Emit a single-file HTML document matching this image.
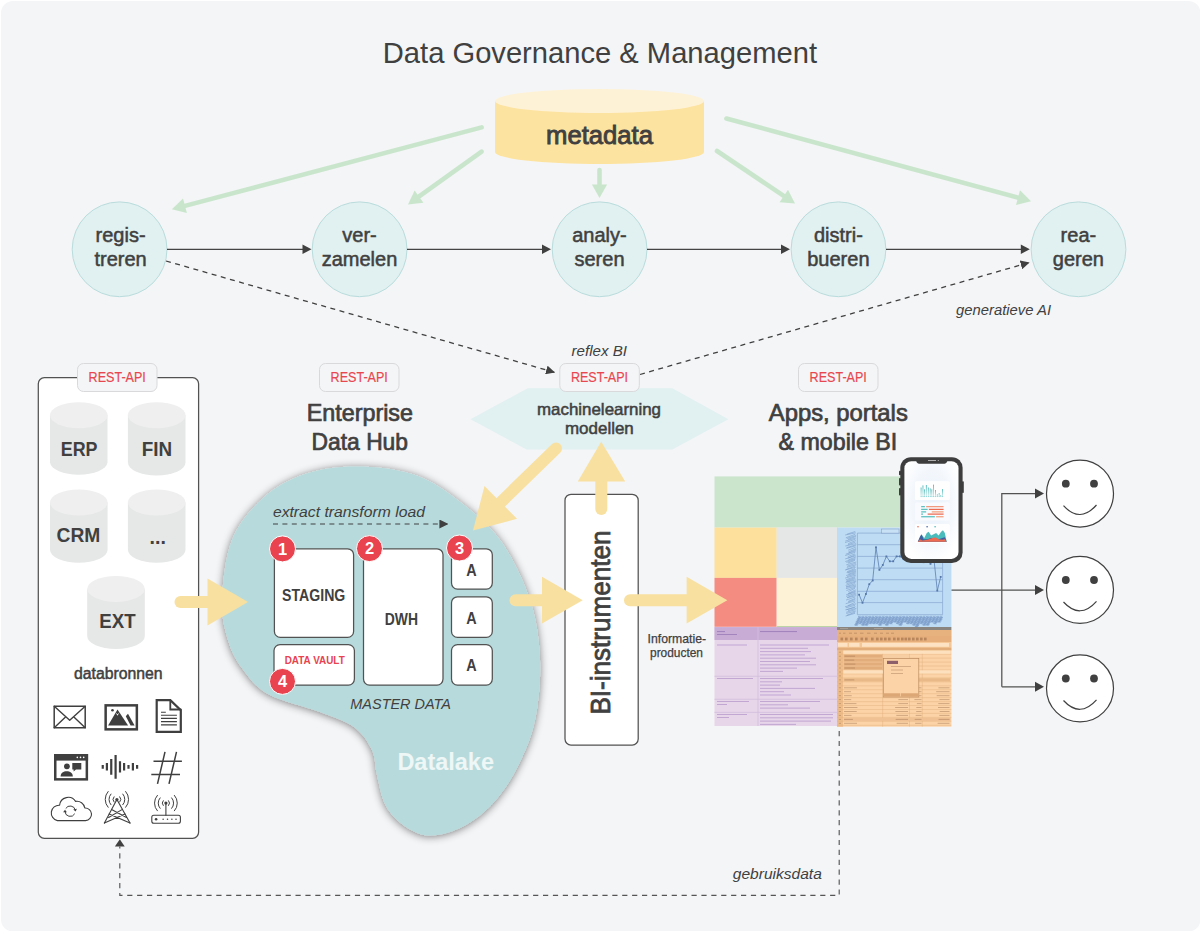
<!DOCTYPE html>
<html><head><meta charset="utf-8">
<style>
html,body{margin:0;padding:0;background:#fff;width:1200px;height:931px;overflow:hidden}
svg{display:block}
text{font-family:"Liberation Sans",sans-serif}
.t{fill:#404040}
.med{stroke:#404040;stroke-width:0.5px;paint-order:stroke}
.it{font-style:italic}
.rest{fill:#e8474f;font-size:14px;stroke:#e8474f;stroke-width:0.2px;paint-order:stroke}
</style></head><body>
<svg width="1200" height="931" viewBox="0 0 1200 931">
<defs>
  <marker id="ah" viewBox="0 0 10 10" refX="10" refY="5" markerWidth="9" markerHeight="9" markerUnits="userSpaceOnUse" orient="auto">
    <path d="M0,0 L10,5 L0,10 z" fill="#404040"/>
  </marker>
  <filter id="sh" x="-10%" y="-10%" width="120%" height="120%">
    <feGaussianBlur in="SourceAlpha" stdDeviation="4"/>
    <feOffset dx="-0.5" dy="1"/>
    <feComponentTransfer><feFuncA type="linear" slope="0.5"/></feComponentTransfer>
    <feMerge><feMergeNode/><feMergeNode in="SourceGraphic"/></feMerge>
  </filter>
</defs>

<!-- background -->
<rect x="1" y="1" width="1199.5" height="930.5" rx="12" fill="#f4f5f7"/>

<!-- title -->
<text x="382.8" y="62.7" font-size="29.5" class="t" textLength="434.2" lengthAdjust="spacingAndGlyphs">Data Governance &amp; Management</text>

<!-- green arrows from metadata -->
<g stroke="#c9e6cc" stroke-width="4.6" stroke-linecap="round" fill="none">
  <line x1="481.6" y1="127.4" x2="183.0" y2="206.4"/>
  <line x1="481.6" y1="151.7" x2="417.4" y2="197.7"/>
  <line x1="599.5" y1="170" x2="599.5" y2="186.5"/>
  <line x1="717" y1="151" x2="785.5" y2="197.1"/>
  <line x1="726.4" y1="118.5" x2="1019.9" y2="198.2"/>
</g>
<g fill="#c9e6cc">
  <path d="M171.9,209.2 L183.0,198.4 L186.9,213.0 Z"/>
  <path d="M408.0,204.4 L414.6,190.4 L423.4,202.7 Z"/>
  <path d="M599.5,198.0 L591.9,184.5 L607.1,184.5 Z"/>
  <path d="M795.0,203.5 L779.6,202.3 L788.0,189.7 Z"/>
  <path d="M1031.0,201.2 L1016.0,205.0 L1020.0,190.3 Z"/>
</g>

<!-- metadata cylinder -->
<path d="M495,101 L495,152 A104.5,12 0 0 0 704,152 L704,101 Z" fill="#fde3a0"/>
<ellipse cx="599.5" cy="101" rx="104.5" ry="12" fill="#fef2d6"/>
<text x="546" y="144.4" font-size="26.5" class="t" style="stroke:#404040;stroke-width:0.9px;paint-order:stroke" textLength="107" lengthAdjust="spacingAndGlyphs">metadata</text>

<!-- process circles -->
<g fill="#e1f0f0" stroke="#b9dcdc" stroke-width="1">
  <circle cx="119.6" cy="249.3" r="47.4"/>
  <circle cx="359.6" cy="249.3" r="47.4"/>
  <circle cx="599.6" cy="249.3" r="47.4"/>
  <circle cx="838.5" cy="249.3" r="47.4"/>
  <circle cx="1078.5" cy="249.3" r="47.4"/>
</g>
<g font-size="20" class="t med" text-anchor="middle">
  <text x="120.6" y="242.3">regis-</text><text x="120.6" y="266.3">treren</text>
  <text x="359.5" y="242.3">ver-</text><text x="359.5" y="266.3">zamelen</text>
  <text x="599.5" y="242.3">analy-</text><text x="599.5" y="266.3">seren</text>
  <text x="838.4" y="242.3">distri-</text><text x="838.4" y="266.3">bueren</text>
  <text x="1078.4" y="242.3">rea-</text><text x="1078.4" y="266.3">geren</text>
</g>

<!-- process arrows -->
<g stroke="#444444" stroke-width="1.25" fill="none">
  <line x1="167" y1="249.3" x2="303" y2="249.3"/>
  <line x1="407" y1="249.3" x2="543" y2="249.3"/>
  <line x1="647" y1="249.3" x2="782" y2="249.3"/>
  <line x1="886" y1="249.3" x2="1022" y2="249.3"/>
</g>
<g fill="#404040">
  <path d="M311.5,249.3 L302.5,244.6 L302.5,254 Z"/>
  <path d="M551,249.3 L542,244.6 L542,254 Z"/>
  <path d="M790,249.3 L781,244.6 L781,254 Z"/>
  <path d="M1029.8,249.3 L1020.8,244.6 L1020.8,254 Z"/>
</g>
<!-- dashed -->
<g stroke="#404040" stroke-width="1.3" fill="none" stroke-dasharray="5 4.5" marker-end="url(#ah)">
  <line x1="166" y1="261" x2="555" y2="372.5"/>
  <line x1="640" y1="374.5" x2="1029.6" y2="262.4"/>
</g>
<text x="1051" y="315.4" font-size="14.5" class="t it" text-anchor="end" textLength="95" lengthAdjust="spacingAndGlyphs">generatieve AI</text>
<text x="571.5" y="356" font-size="14.5" class="t it" textLength="55.5" lengthAdjust="spacingAndGlyphs">reflex BI</text>

<!-- datasource box -->
<rect x="38.3" y="377.7" width="160.3" height="460.6" rx="6" fill="#ffffff" stroke="#525252" stroke-width="1.25"/>

<!-- cylinders -->
<path d="M50.0,415.3 L50.0,462.5 A28.8,13 0 0 0 107.5,462.5 L107.5,415.3 Z" fill="#e6e7e7"/><ellipse cx="78.8" cy="415.3" rx="28.8" ry="13" fill="#efefef"/>
<path d="M127.9,415.3 L127.9,462.5 A28.8,13 0 0 0 185.5,462.5 L185.5,415.3 Z" fill="#e6e7e7"/><ellipse cx="156.7" cy="415.3" rx="28.8" ry="13" fill="#efefef"/>
<path d="M50.0,502.5 L50.0,549.7 A28.8,13 0 0 0 107.6,549.7 L107.6,502.5 Z" fill="#e6e7e7"/><ellipse cx="78.8" cy="502.5" rx="28.8" ry="13" fill="#efefef"/>
<path d="M127.9,502.5 L127.9,549.7 A28.8,13 0 0 0 185.5,549.7 L185.5,502.5 Z" fill="#e6e7e7"/><ellipse cx="156.7" cy="502.5" rx="28.8" ry="13" fill="#efefef"/>
<path d="M87.2,588.9 L87.2,636.1 A28.8,13 0 0 0 144.8,636.1 L144.8,588.9 Z" fill="#e6e7e7"/><ellipse cx="116.0" cy="588.9" rx="28.8" ry="13" fill="#efefef"/>
<g font-size="20.5" font-weight="bold" class="t" text-anchor="middle">
  <text x="79.1" y="456" textLength="36.75" lengthAdjust="spacingAndGlyphs">ERP</text>
  <text x="157" y="456" textLength="30.4" lengthAdjust="spacingAndGlyphs">FIN</text>
  <text x="78.5" y="542" textLength="43.8" lengthAdjust="spacingAndGlyphs">CRM</text>
  <text x="157.8" y="544.3" textLength="16.4" lengthAdjust="spacingAndGlyphs">...</text>
  <text x="117.4" y="628.4" textLength="36.3" lengthAdjust="spacingAndGlyphs">EXT</text>
</g>
<text x="118.3" y="678.5" font-size="16" class="t med" text-anchor="middle" textLength="88.6" lengthAdjust="spacingAndGlyphs">databronnen</text>


<!-- headings -->
<g font-size="23.4" class="t med" style="stroke-width:0.7px" text-anchor="middle">
  <text x="359.85" y="421.3" textLength="106.3" lengthAdjust="spacingAndGlyphs">Enterprise</text>
  <text x="359.8" y="449.5" textLength="96.4" lengthAdjust="spacingAndGlyphs">Data Hub</text>
  <text x="838.3" y="421" textLength="139" lengthAdjust="spacingAndGlyphs">Apps, portals</text>
  <text x="837.9" y="449.5" textLength="118.8" lengthAdjust="spacingAndGlyphs">&amp; mobile BI</text>
</g>

<!-- datalake blob -->
<path d="M356,466.5 C373.8,466.5 395.5,468.8 412,474 C428.5,479.2 440.3,487.0 455,498 C469.7,509.0 487.5,523.0 500,540 C512.5,557.0 523.3,580.0 530,600 C536.7,620.0 539.2,640.0 540,660 C540.8,680.0 538.7,702.3 535,720 C531.3,737.7 524.8,752.3 518,766 C511.2,779.7 503.0,792.0 494,802 C485.0,812.0 474.5,820.4 464,826 C453.5,831.6 440.7,835.4 431,835.6 C421.3,835.8 413.5,831.9 406,827 C398.5,822.1 390.8,814.7 386,806 C381.2,797.3 379.3,784.3 377,775 C374.7,765.7 375.8,758.0 372,750 C368.2,742.0 362.7,733.3 354,727 C345.3,720.7 334.3,717.5 320,712 C305.7,706.5 281.0,701.3 268,694 C255.0,686.7 248.7,677.0 242,668 C235.3,659.0 231.3,651.3 228,640 C224.7,628.7 221.3,616.7 222,600 C222.7,583.3 225.2,557.0 232,540 C238.8,523.0 250.8,509.0 263,498 C275.2,487.0 289.5,479.2 305,474 C320.5,468.8 338.2,466.5 356,466.5 Z" fill="#b7dbdc" filter="url(#sh)"/>
<text x="445.7" y="769.6" font-size="24" font-weight="bold" fill="#eef6f6" text-anchor="middle" textLength="96.6" lengthAdjust="spacingAndGlyphs">Datalake</text>
<text x="272.9" y="516.5" font-size="15.5" class="t it" textLength="152" lengthAdjust="spacingAndGlyphs">extract transform load</text>
<line x1="273" y1="524" x2="448.4" y2="524" stroke="#404040" stroke-width="1.2" stroke-dasharray="5 4.4" marker-end="url(#ah)"/>
<g fill="#ffffff" stroke="#525252" stroke-width="1.25">
  <rect x="274.4" y="548.8" width="79.2" height="88.6" rx="6"/>
  <rect x="274" y="644.6" width="80.4" height="40.5" rx="6"/>
  <rect x="363.5" y="548.8" width="79.5" height="136.3" rx="6"/>
  <rect x="451.5" y="548.8" width="40.8" height="40.3" rx="6"/>
  <rect x="451.5" y="596.8" width="40.8" height="40.6" rx="6"/>
  <rect x="451.5" y="644.6" width="40.8" height="40.5" rx="6"/>
</g>
<g font-size="15.6" font-weight="bold" class="t" text-anchor="middle">
  <text x="313.7" y="601" textLength="63.3" lengthAdjust="spacingAndGlyphs">STAGING</text>
  <text x="401.4" y="624.9" textLength="33.2" lengthAdjust="spacingAndGlyphs">DWH</text>
  <text x="471.4" y="575.5" font-size="16.3" textLength="10.4" lengthAdjust="spacingAndGlyphs">A</text>
  <text x="471.4" y="623.5" font-size="16.3" textLength="10.4" lengthAdjust="spacingAndGlyphs">A</text>
  <text x="471.4" y="671.3" font-size="16.3" textLength="10.4" lengthAdjust="spacingAndGlyphs">A</text>
</g>
<text x="314.7" y="664" font-size="11.5" font-weight="bold" fill="#e8434f" text-anchor="middle" textLength="60" lengthAdjust="spacingAndGlyphs">DATA VAULT</text>
<text x="350.3" y="709" font-size="15" class="t it" textLength="100.7" lengthAdjust="spacingAndGlyphs">MASTER DATA</text>
<g fill="#e8434f" stroke="#ffffff" stroke-width="1">
  <circle cx="282.5" cy="548.9" r="13"/>
  <circle cx="369.5" cy="548.6" r="13"/>
  <circle cx="459.5" cy="548" r="13"/>
  <circle cx="282.5" cy="681.4" r="13"/>
</g>
<g font-size="16.5" font-weight="bold" fill="#ffffff" text-anchor="middle">
  <text x="282.5" y="554.7">1</text>
  <text x="369.5" y="554.4">2</text>
  <text x="459.5" y="553.8">3</text>
  <text x="282.5" y="687.2">4</text>
</g>


<!-- hexagon -->
<path d="M470.5,419.2 L527.7,388.2 L672.3,388.2 L728.3,419.2 L672.3,449.5 L526.5,449.5 Z" fill="#e1f0f1"/>
<g font-size="16.5" class="t med" text-anchor="middle">
  <text x="599" y="414.5" textLength="124" lengthAdjust="spacingAndGlyphs">machinelearning</text>
  <text x="599.4" y="433.7" textLength="68.8" lengthAdjust="spacingAndGlyphs">modellen</text>
</g>

<!-- BI box -->
<rect x="565" y="494.3" width="73.2" height="250.7" rx="6" fill="#ffffff" stroke="#525252" stroke-width="1.25"/>
<text transform="translate(609.9,622.6) rotate(-90)" x="0" y="0" font-size="28.5" class="t med" style="stroke-width:0.8px" text-anchor="middle" textLength="184" lengthAdjust="spacingAndGlyphs">BI-instrumenten</text>
<g font-size="12.2" class="t med" text-anchor="middle" style="stroke-width:0.25px">
  <text x="676.8" y="642.6" textLength="58.4" lengthAdjust="spacingAndGlyphs">Informatie-</text>
  <text x="676.5" y="656.7" textLength="53" lengthAdjust="spacingAndGlyphs">producten</text>
</g>

<!-- dashboard -->
<g>
<rect x="714.50" y="476.40" width="236.90" height="51.20" fill="#cbe5cd"/>
<rect x="714.50" y="527.60" width="62.20" height="50.30" fill="#fce09c"/>
<rect x="776.70" y="527.60" width="60.50" height="50.30" fill="#e5e6e6"/>
<rect x="714.50" y="577.90" width="62.20" height="48.90" fill="#f58c82"/>
<rect x="776.70" y="577.90" width="60.50" height="48.90" fill="#fdf2d6"/>
<rect x="776.70" y="626.30" width="60.50" height="1.60" fill="#a3c98f"/>
<rect x="837.00" y="527.60" width="114.40" height="99.60" fill="#bedcf4"/>
<g stroke="#86a6d0" stroke-width="0.7"><line x1="857.4" y1="533.1" x2="942.6" y2="533.1"/><line x1="857.4" y1="544.7" x2="942.6" y2="544.7"/><line x1="857.4" y1="556.4" x2="942.6" y2="556.4"/><line x1="857.4" y1="568.1" x2="942.6" y2="568.1"/><line x1="857.4" y1="579.7" x2="942.6" y2="579.7"/><line x1="857.4" y1="591.3" x2="942.6" y2="591.3"/><line x1="857.4" y1="602.6" x2="942.6" y2="602.6"/><line x1="857.4" y1="614.7" x2="942.6" y2="614.7"/><line x1="857.4" y1="533.1" x2="857.4" y2="614.7"/><line x1="942.6" y1="533.1" x2="942.6" y2="614.7"/></g>
<rect x="881.7" y="529" width="17.3" height="4.1" fill="#c9e1f5" stroke="#7f9cc4" stroke-width="0.5"/><polyline fill="none" stroke="#5b7fb2" stroke-width="0.8" points="859.1,594.7 862.5,602.8 865.9,594.0 869.3,584.2 872.7,580.5 876.0,547.3 879.4,569.9 882.8,565.0 886.4,556.4 889.8,561.3 893.2,561.3 896.6,556.4 899.9,556.4 903.3,558.8 906.7,554.3 910.1,561.1 913.5,557.7 916.9,553.2 920.2,558.8 923.6,562.2 927.1,558.8 930.5,563.9 933.9,558.8 937.3,590.6 940.7,576.9"/>
<g fill="#5577aa"><rect x="858.2" y="593.8" width="1.8" height="1.8"/><rect x="861.6" y="601.9" width="1.8" height="1.8"/><rect x="865.0" y="593.1" width="1.8" height="1.8"/><rect x="868.4" y="583.3" width="1.8" height="1.8"/><rect x="871.8" y="579.6" width="1.8" height="1.8"/><rect x="875.1" y="546.4" width="1.8" height="1.8"/><rect x="878.5" y="569.0" width="1.8" height="1.8"/><rect x="881.9" y="564.1" width="1.8" height="1.8"/><rect x="885.5" y="555.5" width="1.8" height="1.8"/><rect x="888.9" y="560.4" width="1.8" height="1.8"/><rect x="892.3" y="560.4" width="1.8" height="1.8"/><rect x="895.7" y="555.5" width="1.8" height="1.8"/><rect x="899.0" y="555.5" width="1.8" height="1.8"/><rect x="902.4" y="557.9" width="1.8" height="1.8"/><rect x="905.8" y="553.4" width="1.8" height="1.8"/><rect x="909.2" y="560.2" width="1.8" height="1.8"/><rect x="912.6" y="556.8" width="1.8" height="1.8"/><rect x="916.0" y="552.3" width="1.8" height="1.8"/><rect x="919.3" y="557.9" width="1.8" height="1.8"/><rect x="922.7" y="561.3" width="1.8" height="1.8"/><rect x="926.2" y="557.9" width="1.8" height="1.8"/><rect x="929.6" y="563.0" width="1.8" height="1.8"/><rect x="933.0" y="557.9" width="1.8" height="1.8"/><rect x="936.4" y="589.7" width="1.8" height="1.8"/><rect x="939.8" y="576.0" width="1.8" height="1.8"/></g>
<path d="M846.9,534.2 L855.3,531.5 M845.2,535.0 L855.8,532.8 M845.8,537.8 L855.3,534.3 M846.7,538.6 L856.1,535.5 M848.0,539.4 L855.8,536.5 M845.2,541.1 L855.9,538.0 M845.1,542.6 L855.4,539.3 M848.1,543.6 L855.9,540.5 M847.8,544.8 L855.5,542.1 M845.3,546.0 L856.1,543.6 M846.5,547.7 L856.3,544.7 M846.4,548.4 L855.7,545.8 M848.2,550.2 L855.8,547.1 M848.5,551.7 L856.1,548.6 M848.4,553.0 L856.1,549.6 M845.7,554.2 L855.9,550.9 M845.2,555.6 L855.4,552.2 M847.8,556.6 L855.1,553.8 M847.7,558.2 L855.4,554.8 M845.2,558.9 L855.8,555.8 M848.4,559.8 L856.1,556.9 M845.3,561.5 L855.4,558.5 M846.4,562.4 L855.3,559.4 M848.0,563.0 L855.1,560.4 M846.3,564.8 L856.2,562.0 M847.1,566.2 L855.8,563.3 M846.8,567.4 L856.2,564.6 M846.1,569.5 L855.3,566.0 M845.0,570.0 L855.7,567.3 M847.2,571.6 L855.0,568.6 M846.6,572.6 L855.8,569.5 M847.6,572.9 L855.9,570.7 M848.4,574.1 L855.9,571.6 M846.1,575.5 L855.8,572.8 M847.1,576.5 L855.5,573.9 M845.1,578.1 L856.0,575.1 M845.8,579.8 L855.4,576.5 M846.5,580.7 L855.2,577.6 M846.2,581.8 L855.4,578.6 M845.6,582.4 L856.1,579.8 M846.6,583.6 L856.2,581.1 M845.7,585.4 L855.7,582.1 M846.0,586.8 L855.2,583.6 M846.2,587.3 L856.0,584.9 M845.9,588.7 L856.0,586.1 M846.4,590.6 L855.5,587.2 M848.3,591.6 L855.0,588.3 M848.3,593.3 L855.6,589.8 M847.9,594.0 L856.0,590.9 M846.2,594.7 L855.4,592.2 M846.0,596.4 L855.8,593.1 M847.4,597.4 L856.2,594.0 M847.0,597.8 L856.2,595.6 M846.0,600.1 L855.2,597.0 M848.3,601.3 L855.5,598.3 M848.0,602.2 L855.3,599.4 M845.7,603.7 L855.5,600.8 M847.8,605.7 L855.2,602.3 M845.0,606.8 L856.1,603.8 M845.9,607.8 L855.1,605.3 M846.7,609.8 L855.5,606.6 M845.4,609.8 L855.1,607.5 M848.0,610.7 L856.3,608.4 M846.1,612.3 L855.4,609.7 M846.3,613.5 L855.8,611.0 M846.9,615.3 L855.2,612.1 M845.6,616.0 L855.1,613.3 " fill="none" stroke="#6d8ec0" stroke-width="0.55" opacity="0.9"/>
<path d="M859.0,616.0 L858.0,616.8 L859.6,617.6 L857.3,618.4 L858.9,619.2 L856.6,620.0 L858.2,620.8 L855.8,621.6 L857.4,622.4 L855.1,623.2 L856.7,624.0 L854.4,624.8 L856.0,625.6 M859.9,616.0 L858.9,616.8 L860.5,617.6 L858.2,618.4 L859.8,619.2 L857.5,620.0 L859.1,620.8 L856.7,621.6 L858.3,622.4 L856.0,623.2 L857.6,624.0 L855.3,624.8 L856.9,625.6 M860.8,616.0 L859.8,616.8 L861.4,617.6 L859.1,618.4 L860.7,619.2 L858.4,620.0 L860.0,620.8 L857.6,621.6 L859.2,622.4 L856.9,623.2 L858.5,624.0 L856.2,624.8 L857.8,625.6 M862.4,616.0 L861.4,616.8 L863.0,617.6 L860.7,618.4 L862.3,619.2 L860.0,620.0 L861.6,620.8 L859.2,621.6 L860.8,622.4 L858.5,623.2 L860.1,624.0 M863.3,616.0 L862.3,616.8 L863.9,617.6 L861.6,618.4 L863.2,619.2 L860.9,620.0 L862.5,620.8 L860.1,621.6 L861.7,622.4 L859.4,623.2 L861.0,624.0 M864.2,616.0 L863.2,616.8 L864.8,617.6 L862.5,618.4 L864.1,619.2 L861.8,620.0 L863.4,620.8 L861.0,621.6 L862.6,622.4 L860.3,623.2 L861.9,624.0 M865.8,616.0 L864.8,616.8 L866.4,617.6 L864.1,618.4 L865.7,619.2 L863.4,620.0 L865.0,620.8 L862.6,621.6 L864.2,622.4 L861.9,623.2 L863.5,624.0 L861.2,624.8 L862.8,625.6 M866.7,616.0 L865.7,616.8 L867.3,617.6 L865.0,618.4 L866.6,619.2 L864.3,620.0 L865.9,620.8 L863.5,621.6 L865.1,622.4 L862.8,623.2 L864.4,624.0 L862.1,624.8 L863.7,625.6 M867.6,616.0 L866.6,616.8 L868.2,617.6 L865.9,618.4 L867.5,619.2 L865.2,620.0 L866.8,620.8 L864.4,621.6 L866.0,622.4 L863.7,623.2 L865.3,624.0 L863.0,624.8 L864.6,625.6 M869.2,616.0 L868.2,616.8 L869.8,617.6 L867.5,618.4 L869.1,619.2 L866.8,620.0 L868.4,620.8 L866.0,621.6 L867.6,622.4 L865.3,623.2 L866.9,624.0 L864.6,624.8 L866.2,625.6 M870.1,616.0 L869.1,616.8 L870.7,617.6 L868.4,618.4 L870.0,619.2 L867.7,620.0 L869.3,620.8 L866.9,621.6 L868.5,622.4 L866.2,623.2 L867.8,624.0 L865.5,624.8 L867.1,625.6 M871.0,616.0 L870.0,616.8 L871.6,617.6 L869.3,618.4 L870.9,619.2 L868.6,620.0 L870.2,620.8 L867.8,621.6 L869.4,622.4 L867.1,623.2 L868.7,624.0 L866.4,624.8 L868.0,625.6 M872.6,616.0 L871.6,616.8 L873.2,617.6 L870.9,618.4 L872.5,619.2 L870.2,620.0 L871.8,620.8 L869.4,621.6 L871.0,622.4 L868.7,623.2 L870.3,624.0 M873.5,616.0 L872.5,616.8 L874.1,617.6 L871.8,618.4 L873.4,619.2 L871.1,620.0 L872.7,620.8 L870.3,621.6 L871.9,622.4 L869.6,623.2 L871.2,624.0 M874.4,616.0 L873.4,616.8 L875.0,617.6 L872.7,618.4 L874.3,619.2 L872.0,620.0 L873.6,620.8 L871.2,621.6 L872.8,622.4 L870.5,623.2 L872.1,624.0 M876.0,616.0 L875.0,616.8 L876.6,617.6 L874.3,618.4 L875.9,619.2 L873.6,620.0 L875.2,620.8 L872.8,621.6 L874.4,622.4 L872.1,623.2 L873.7,624.0 M876.9,616.0 L875.9,616.8 L877.5,617.6 L875.2,618.4 L876.8,619.2 L874.5,620.0 L876.1,620.8 L873.7,621.6 L875.3,622.4 L873.0,623.2 L874.6,624.0 M877.8,616.0 L876.8,616.8 L878.4,617.6 L876.1,618.4 L877.7,619.2 L875.4,620.0 L877.0,620.8 L874.6,621.6 L876.2,622.4 L873.9,623.2 L875.5,624.0 M879.4,616.0 L878.4,616.8 L880.0,617.6 L877.7,618.4 L879.3,619.2 L877.0,620.0 L878.6,620.8 L876.2,621.6 L877.8,622.4 L875.5,623.2 L877.1,624.0 M880.3,616.0 L879.3,616.8 L880.9,617.6 L878.6,618.4 L880.2,619.2 L877.9,620.0 L879.5,620.8 L877.1,621.6 L878.7,622.4 L876.4,623.2 L878.0,624.0 M881.2,616.0 L880.2,616.8 L881.8,617.6 L879.5,618.4 L881.1,619.2 L878.8,620.0 L880.4,620.8 L878.0,621.6 L879.6,622.4 L877.3,623.2 L878.9,624.0 M882.8,616.0 L881.8,616.8 L883.4,617.6 L881.1,618.4 L882.7,619.2 L880.4,620.0 L882.0,620.8 L879.6,621.6 L881.2,622.4 L878.9,623.2 L880.5,624.0 L878.2,624.8 L879.8,625.6 M883.7,616.0 L882.7,616.8 L884.3,617.6 L882.0,618.4 L883.6,619.2 L881.3,620.0 L882.9,620.8 L880.5,621.6 L882.1,622.4 L879.8,623.2 L881.4,624.0 L879.1,624.8 L880.7,625.6 M884.6,616.0 L883.6,616.8 L885.2,617.6 L882.9,618.4 L884.5,619.2 L882.2,620.0 L883.8,620.8 L881.4,621.6 L883.0,622.4 L880.7,623.2 L882.3,624.0 L880.0,624.8 L881.6,625.6 M886.2,616.0 L885.2,616.8 L886.8,617.6 L884.5,618.4 L886.1,619.2 L883.8,620.0 L885.4,620.8 L883.0,621.6 L884.6,622.4 L882.3,623.2 L883.9,624.0 M887.1,616.0 L886.1,616.8 L887.7,617.6 L885.4,618.4 L887.0,619.2 L884.7,620.0 L886.3,620.8 L883.9,621.6 L885.5,622.4 L883.2,623.2 L884.8,624.0 M888.0,616.0 L887.0,616.8 L888.6,617.6 L886.3,618.4 L887.9,619.2 L885.6,620.0 L887.2,620.8 L884.8,621.6 L886.4,622.4 L884.1,623.2 L885.7,624.0 M889.6,616.0 L888.6,616.8 L890.2,617.6 L887.9,618.4 L889.5,619.2 L887.2,620.0 L888.8,620.8 L886.4,621.6 L888.0,622.4 L885.7,623.2 L887.3,624.0 L885.0,624.8 L886.6,625.6 M890.5,616.0 L889.5,616.8 L891.1,617.6 L888.8,618.4 L890.4,619.2 L888.1,620.0 L889.7,620.8 L887.3,621.6 L888.9,622.4 L886.6,623.2 L888.2,624.0 L885.9,624.8 L887.5,625.6 M891.4,616.0 L890.4,616.8 L892.0,617.6 L889.7,618.4 L891.3,619.2 L889.0,620.0 L890.6,620.8 L888.2,621.6 L889.8,622.4 L887.5,623.2 L889.1,624.0 L886.8,624.8 L888.4,625.6 M893.0,616.0 L892.0,616.8 L893.6,617.6 L891.3,618.4 L892.9,619.2 L890.6,620.0 L892.2,620.8 L889.8,621.6 L891.4,622.4 L889.1,623.2 L890.7,624.0 M893.9,616.0 L892.9,616.8 L894.5,617.6 L892.2,618.4 L893.8,619.2 L891.5,620.0 L893.1,620.8 L890.7,621.6 L892.3,622.4 L890.0,623.2 L891.6,624.0 M894.8,616.0 L893.8,616.8 L895.4,617.6 L893.1,618.4 L894.7,619.2 L892.4,620.0 L894.0,620.8 L891.6,621.6 L893.2,622.4 L890.9,623.2 L892.5,624.0 M896.4,616.0 L895.4,616.8 L897.0,617.6 L894.7,618.4 L896.3,619.2 L894.0,620.0 L895.6,620.8 L893.2,621.6 L894.8,622.4 M897.3,616.0 L896.3,616.8 L897.9,617.6 L895.6,618.4 L897.2,619.2 L894.9,620.0 L896.5,620.8 L894.1,621.6 L895.7,622.4 M898.2,616.0 L897.2,616.8 L898.8,617.6 L896.5,618.4 L898.1,619.2 L895.8,620.0 L897.4,620.8 L895.0,621.6 L896.6,622.4 M899.8,616.0 L898.8,616.8 L900.4,617.6 L898.1,618.4 L899.7,619.2 L897.4,620.0 L899.0,620.8 L896.6,621.6 L898.2,622.4 L895.9,623.2 L897.5,624.0 M900.7,616.0 L899.7,616.8 L901.3,617.6 L899.0,618.4 L900.6,619.2 L898.3,620.0 L899.9,620.8 L897.5,621.6 L899.1,622.4 L896.8,623.2 L898.4,624.0 M901.6,616.0 L900.6,616.8 L902.2,617.6 L899.9,618.4 L901.5,619.2 L899.2,620.0 L900.8,620.8 L898.4,621.6 L900.0,622.4 L897.7,623.2 L899.3,624.0 M903.2,616.0 L902.2,616.8 L903.8,617.6 L901.5,618.4 L903.1,619.2 L900.8,620.0 L902.4,620.8 L900.0,621.6 L901.6,622.4 L899.3,623.2 L900.9,624.0 L898.6,624.8 L900.2,625.6 M904.1,616.0 L903.1,616.8 L904.7,617.6 L902.4,618.4 L904.0,619.2 L901.7,620.0 L903.3,620.8 L900.9,621.6 L902.5,622.4 L900.2,623.2 L901.8,624.0 L899.5,624.8 L901.1,625.6 M905.0,616.0 L904.0,616.8 L905.6,617.6 L903.3,618.4 L904.9,619.2 L902.6,620.0 L904.2,620.8 L901.8,621.6 L903.4,622.4 L901.1,623.2 L902.7,624.0 L900.4,624.8 L902.0,625.6 M906.6,616.0 L905.6,616.8 L907.2,617.6 L904.9,618.4 L906.5,619.2 L904.2,620.0 L905.8,620.8 L903.4,621.6 L905.0,622.4 M907.5,616.0 L906.5,616.8 L908.1,617.6 L905.8,618.4 L907.4,619.2 L905.1,620.0 L906.7,620.8 L904.3,621.6 L905.9,622.4 M908.4,616.0 L907.4,616.8 L909.0,617.6 L906.7,618.4 L908.3,619.2 L906.0,620.0 L907.6,620.8 L905.2,621.6 L906.8,622.4 M910.0,616.0 L909.0,616.8 L910.6,617.6 L908.3,618.4 L909.9,619.2 L907.6,620.0 L909.2,620.8 L906.8,621.6 L908.4,622.4 L906.1,623.2 L907.7,624.0 M910.9,616.0 L909.9,616.8 L911.5,617.6 L909.2,618.4 L910.8,619.2 L908.5,620.0 L910.1,620.8 L907.7,621.6 L909.3,622.4 L907.0,623.2 L908.6,624.0 M911.8,616.0 L910.8,616.8 L912.4,617.6 L910.1,618.4 L911.7,619.2 L909.4,620.0 L911.0,620.8 L908.6,621.6 L910.2,622.4 L907.9,623.2 L909.5,624.0 M913.4,616.0 L912.4,616.8 L914.0,617.6 L911.7,618.4 L913.3,619.2 L911.0,620.0 L912.6,620.8 L910.2,621.6 L911.8,622.4 L909.5,623.2 L911.1,624.0 M914.3,616.0 L913.3,616.8 L914.9,617.6 L912.6,618.4 L914.2,619.2 L911.9,620.0 L913.5,620.8 L911.1,621.6 L912.7,622.4 L910.4,623.2 L912.0,624.0 M915.2,616.0 L914.2,616.8 L915.8,617.6 L913.5,618.4 L915.1,619.2 L912.8,620.0 L914.4,620.8 L912.0,621.6 L913.6,622.4 L911.3,623.2 L912.9,624.0 M916.8,616.0 L915.8,616.8 L917.4,617.6 L915.1,618.4 L916.7,619.2 L914.4,620.0 L916.0,620.8 L913.6,621.6 L915.2,622.4 L912.9,623.2 L914.5,624.0 L912.2,624.8 L913.8,625.6 M917.7,616.0 L916.7,616.8 L918.3,617.6 L916.0,618.4 L917.6,619.2 L915.3,620.0 L916.9,620.8 L914.5,621.6 L916.1,622.4 L913.8,623.2 L915.4,624.0 L913.1,624.8 L914.7,625.6 M918.6,616.0 L917.6,616.8 L919.2,617.6 L916.9,618.4 L918.5,619.2 L916.2,620.0 L917.8,620.8 L915.4,621.6 L917.0,622.4 L914.7,623.2 L916.3,624.0 L914.0,624.8 L915.6,625.6 M920.2,616.0 L919.2,616.8 L920.8,617.6 L918.5,618.4 L920.1,619.2 L917.8,620.0 L919.4,620.8 L917.0,621.6 L918.6,622.4 L916.3,623.2 L917.9,624.0 L915.6,624.8 L917.2,625.6 L914.9,626.4 L916.5,627.2 M921.1,616.0 L920.1,616.8 L921.7,617.6 L919.4,618.4 L921.0,619.2 L918.7,620.0 L920.3,620.8 L917.9,621.6 L919.5,622.4 L917.2,623.2 L918.8,624.0 L916.5,624.8 L918.1,625.6 L915.8,626.4 L917.4,627.2 M922.0,616.0 L921.0,616.8 L922.6,617.6 L920.3,618.4 L921.9,619.2 L919.6,620.0 L921.2,620.8 L918.8,621.6 L920.4,622.4 L918.1,623.2 L919.7,624.0 L917.4,624.8 L919.0,625.6 L916.7,626.4 L918.3,627.2 M923.6,616.0 L922.6,616.8 L924.2,617.6 L921.9,618.4 L923.5,619.2 L921.2,620.0 L922.8,620.8 L920.4,621.6 L922.0,622.4 L919.7,623.2 L921.3,624.0 M924.5,616.0 L923.5,616.8 L925.1,617.6 L922.8,618.4 L924.4,619.2 L922.1,620.0 L923.7,620.8 L921.3,621.6 L922.9,622.4 L920.6,623.2 L922.2,624.0 M925.4,616.0 L924.4,616.8 L926.0,617.6 L923.7,618.4 L925.3,619.2 L923.0,620.0 L924.6,620.8 L922.2,621.6 L923.8,622.4 L921.5,623.2 L923.1,624.0 M927.0,616.0 L926.0,616.8 L927.6,617.6 L925.3,618.4 L926.9,619.2 L924.6,620.0 L926.2,620.8 L923.8,621.6 L925.4,622.4 L923.1,623.2 L924.7,624.0 L922.4,624.8 L924.0,625.6 M927.9,616.0 L926.9,616.8 L928.5,617.6 L926.2,618.4 L927.8,619.2 L925.5,620.0 L927.1,620.8 L924.7,621.6 L926.3,622.4 L924.0,623.2 L925.6,624.0 L923.3,624.8 L924.9,625.6 M928.8,616.0 L927.8,616.8 L929.4,617.6 L927.1,618.4 L928.7,619.2 L926.4,620.0 L928.0,620.8 L925.6,621.6 L927.2,622.4 L924.9,623.2 L926.5,624.0 L924.2,624.8 L925.8,625.6 M930.4,616.0 L929.4,616.8 L931.0,617.6 L928.7,618.4 L930.3,619.2 L928.0,620.0 L929.6,620.8 L927.2,621.6 L928.8,622.4 L926.5,623.2 L928.1,624.0 L925.8,624.8 L927.4,625.6 M931.3,616.0 L930.3,616.8 L931.9,617.6 L929.6,618.4 L931.2,619.2 L928.9,620.0 L930.5,620.8 L928.1,621.6 L929.7,622.4 L927.4,623.2 L929.0,624.0 L926.7,624.8 L928.3,625.6 M932.2,616.0 L931.2,616.8 L932.8,617.6 L930.5,618.4 L932.1,619.2 L929.8,620.0 L931.4,620.8 L929.0,621.6 L930.6,622.4 L928.3,623.2 L929.9,624.0 L927.6,624.8 L929.2,625.6 M933.8,616.0 L932.8,616.8 L934.4,617.6 L932.1,618.4 L933.7,619.2 L931.4,620.0 L933.0,620.8 L930.6,621.6 L932.2,622.4 M934.7,616.0 L933.7,616.8 L935.3,617.6 L933.0,618.4 L934.6,619.2 L932.3,620.0 L933.9,620.8 L931.5,621.6 L933.1,622.4 M935.6,616.0 L934.6,616.8 L936.2,617.6 L933.9,618.4 L935.5,619.2 L933.2,620.0 L934.8,620.8 L932.4,621.6 L934.0,622.4 M937.2,616.0 L936.2,616.8 L937.8,617.6 L935.5,618.4 L937.1,619.2 L934.8,620.0 L936.4,620.8 L934.0,621.6 L935.6,622.4 L933.3,623.2 L934.9,624.0 M938.1,616.0 L937.1,616.8 L938.7,617.6 L936.4,618.4 L938.0,619.2 L935.7,620.0 L937.3,620.8 L934.9,621.6 L936.5,622.4 L934.2,623.2 L935.8,624.0 M939.0,616.0 L938.0,616.8 L939.6,617.6 L937.3,618.4 L938.9,619.2 L936.6,620.0 L938.2,620.8 L935.8,621.6 L937.4,622.4 L935.1,623.2 L936.7,624.0 M940.6,616.0 L939.6,616.8 L941.2,617.6 L938.9,618.4 L940.5,619.2 L938.2,620.0 L939.8,620.8 L937.4,621.6 L939.0,622.4 M941.5,616.0 L940.5,616.8 L942.1,617.6 L939.8,618.4 L941.4,619.2 L939.1,620.0 L940.7,620.8 L938.3,621.6 L939.9,622.4 M942.4,616.0 L941.4,616.8 L943.0,617.6 L940.7,618.4 L942.3,619.2 L940.0,620.0 L941.6,620.8 L939.2,621.6 L940.8,622.4 " fill="none" stroke="#6d8ec0" stroke-width="0.5" opacity="0.85"/>
<rect x="837.00" y="627.00" width="114.40" height="3.00" fill="#8a857e"/>
<rect x="837.00" y="630.00" width="114.40" height="96.70" fill="#fcd3a6"/>
<rect x="837.00" y="630.00" width="114.40" height="6.00" fill="#e8b27e"/>
<rect x="837.00" y="636.00" width="114.40" height="6.20" fill="#e6ae7a"/>
<rect x="837.00" y="642.20" width="114.40" height="5.40" fill="#f5c796"/>
<rect x="837.00" y="647.60" width="114.40" height="2.60" fill="#e3ad7a"/>
<rect x="837.00" y="650.20" width="6.00" height="76.50" fill="#eebd8a"/>
<g stroke="#c8c2ba" stroke-width="0.5" opacity="0.8"><line x1="840" y1="628.5" x2="848" y2="628.5"/><line x1="874" y1="628.5" x2="883" y2="628.5"/></g><g stroke="#7a5535" stroke-width="0.6" opacity="0.55"><line x1="839" y1="633.2" x2="841" y2="633.2"/><line x1="843" y1="633.2" x2="845.5" y2="633.2"/><line x1="849" y1="633.2" x2="852" y2="633.2"/><line x1="854" y1="633.2" x2="857" y2="633.2"/><line x1="860" y1="633.2" x2="863.5" y2="633.2"/><line x1="867" y1="633.2" x2="870.5" y2="633.2"/><line x1="874" y1="633.2" x2="877" y2="633.2"/><line x1="880" y1="633.2" x2="883" y2="633.2"/><line x1="886" y1="633.2" x2="889" y2="633.2"/><line x1="891" y1="633.2" x2="894" y2="633.2"/></g>
<g fill="#8a6040" opacity="0.5"><rect x="840.5" y="637.6" width="2.6" height="2.8"/><rect x="845" y="637.6" width="2.6" height="2.8"/><rect x="850" y="637.6" width="2.6" height="2.8"/><rect x="855" y="637.6" width="2.6" height="2.8"/><rect x="860.5" y="637.6" width="2.6" height="2.8"/><rect x="865" y="637.6" width="2.6" height="2.8"/><rect x="871" y="637.6" width="2.6" height="2.8"/><rect x="876" y="637.6" width="2.6" height="2.8"/><rect x="880" y="637.6" width="2.6" height="2.8"/><rect x="884" y="637.6" width="2.6" height="2.8"/><rect x="888" y="637.6" width="2.6" height="2.8"/><rect x="893" y="637.6" width="2.6" height="2.8"/><rect x="897" y="637.6" width="2.6" height="2.8"/><rect x="901" y="637.6" width="2.6" height="2.8"/><rect x="904.5" y="637.6" width="2.6" height="2.8"/><rect x="908" y="637.6" width="2.6" height="2.8"/><rect x="912" y="637.6" width="2.6" height="2.8"/><rect x="916" y="637.6" width="2.6" height="2.8"/><rect x="920" y="637.6" width="2.6" height="2.8"/><rect x="924" y="637.6" width="2.6" height="2.8"/></g>
<rect x="838.00" y="643.00" width="9.50" height="3.80" fill="#fde3c4"/>
<rect x="849.00" y="643.00" width="10.50" height="3.80" fill="#fde3c4"/>
<rect x="862.00" y="643.00" width="87.00" height="3.80" fill="#fde3c4"/>
<g stroke="#e3b080" stroke-width="0.45"><line x1="837" y1="650.2" x2="951.4" y2="650.2"/><line x1="837" y1="654.2" x2="951.4" y2="654.2"/><line x1="837" y1="658.1" x2="951.4" y2="658.1"/><line x1="837" y1="662.1" x2="951.4" y2="662.1"/><line x1="837" y1="666.0" x2="951.4" y2="666.0"/><line x1="837" y1="670.0" x2="951.4" y2="670.0"/><line x1="837" y1="673.9" x2="951.4" y2="673.9"/><line x1="837" y1="677.9" x2="951.4" y2="677.9"/><line x1="837" y1="681.8" x2="951.4" y2="681.8"/><line x1="837" y1="685.8" x2="951.4" y2="685.8"/><line x1="837" y1="689.7" x2="951.4" y2="689.7"/><line x1="837" y1="693.7" x2="951.4" y2="693.7"/><line x1="837" y1="697.6" x2="951.4" y2="697.6"/><line x1="837" y1="701.6" x2="951.4" y2="701.6"/><line x1="837" y1="705.5" x2="951.4" y2="705.5"/><line x1="837" y1="709.5" x2="951.4" y2="709.5"/><line x1="837" y1="713.4" x2="951.4" y2="713.4"/><line x1="837" y1="717.4" x2="951.4" y2="717.4"/><line x1="837" y1="721.3" x2="951.4" y2="721.3"/><line x1="837" y1="725.3" x2="951.4" y2="725.3"/><line x1="882.6" y1="650.2" x2="882.6" y2="726.7"/><line x1="909.5" y1="650.2" x2="909.5" y2="726.7"/><line x1="922.3" y1="650.2" x2="922.3" y2="726.7"/></g>
<rect x="843.50" y="650.60" width="107.00" height="3.20" fill="#fde0bd"/>
<rect x="843.50" y="654.55" width="39.00" height="3.20" fill="#e2ad7b"/>
<rect x="843.50" y="658.50" width="39.00" height="3.20" fill="#e2ad7b"/>
<rect x="843.50" y="662.45" width="39.00" height="3.20" fill="#e2ad7b"/>
<rect x="843.50" y="666.40" width="39.00" height="3.20" fill="#e2ad7b"/>
<rect x="883.00" y="654.55" width="26.00" height="3.20" fill="#f6cea2"/>
<rect x="843.50" y="670.35" width="107.00" height="3.20" fill="#fde0bd"/>
<rect x="843.50" y="678.25" width="107.00" height="3.20" fill="#e9b988"/>
<rect x="843.50" y="717.75" width="107.00" height="3.20" fill="#efc193"/>
<g stroke="#8a6040" stroke-width="0.55" opacity="0.7"><line x1="844.5" y1="656.2" x2="855.1" y2="656.2"/><line x1="844.5" y1="660.1" x2="854.3" y2="660.1"/><line x1="844.5" y1="664.1" x2="855.4" y2="664.1"/><line x1="844.5" y1="668.0" x2="855.0" y2="668.0"/><line x1="844.5" y1="679.9" x2="854.3" y2="679.9"/><line x1="844" y1="687.8" x2="856.9" y2="687.8"/><line x1="897.3" y1="687.8" x2="908" y2="687.8"/><line x1="914.3" y1="687.8" x2="921.5" y2="687.8"/><line x1="938.4" y1="687.8" x2="949.5" y2="687.8"/><line x1="844" y1="691.7" x2="851.0" y2="691.7"/><line x1="895.6" y1="691.7" x2="908" y2="691.7"/><line x1="916.3" y1="691.7" x2="921.5" y2="691.7"/><line x1="936.2" y1="691.7" x2="949.5" y2="691.7"/><line x1="844" y1="695.7" x2="851.7" y2="695.7"/><line x1="895.4" y1="695.7" x2="908" y2="695.7"/><line x1="916.6" y1="695.7" x2="921.5" y2="695.7"/><line x1="936.7" y1="695.7" x2="949.5" y2="695.7"/><line x1="844" y1="699.6" x2="851.2" y2="699.6"/><line x1="898.4" y1="699.6" x2="908" y2="699.6"/><line x1="914.4" y1="699.6" x2="921.5" y2="699.6"/><line x1="939.4" y1="699.6" x2="949.5" y2="699.6"/><line x1="844" y1="703.6" x2="856.4" y2="703.6"/><line x1="898.3" y1="703.6" x2="908" y2="703.6"/><line x1="916.9" y1="703.6" x2="921.5" y2="703.6"/><line x1="938.3" y1="703.6" x2="949.5" y2="703.6"/><line x1="844" y1="707.5" x2="857.4" y2="707.5"/><line x1="895.1" y1="707.5" x2="908" y2="707.5"/><line x1="916.3" y1="707.5" x2="921.5" y2="707.5"/><line x1="938.0" y1="707.5" x2="949.5" y2="707.5"/><line x1="844" y1="711.5" x2="856.7" y2="711.5"/><line x1="895.4" y1="711.5" x2="908" y2="711.5"/><line x1="916.2" y1="711.5" x2="921.5" y2="711.5"/><line x1="939.7" y1="711.5" x2="949.5" y2="711.5"/><line x1="844" y1="715.4" x2="851.5" y2="715.4"/><line x1="896.3" y1="715.4" x2="908" y2="715.4"/><line x1="915.7" y1="715.4" x2="921.5" y2="715.4"/><line x1="939.3" y1="715.4" x2="949.5" y2="715.4"/><line x1="844" y1="719.4" x2="852.9" y2="719.4"/><line x1="895.7" y1="719.4" x2="908" y2="719.4"/><line x1="914.7" y1="719.4" x2="921.5" y2="719.4"/><line x1="938.5" y1="719.4" x2="949.5" y2="719.4"/><line x1="844" y1="723.3" x2="857.0" y2="723.3"/><line x1="896.6" y1="723.3" x2="908" y2="723.3"/><line x1="915.1" y1="723.3" x2="921.5" y2="723.3"/><line x1="937.6" y1="723.3" x2="949.5" y2="723.3"/><line x1="838.8" y1="652.2" x2="841" y2="652.2"/><line x1="838.8" y1="656.2" x2="841" y2="656.2"/><line x1="838.8" y1="660.1" x2="841" y2="660.1"/><line x1="838.8" y1="664.1" x2="841" y2="664.1"/><line x1="838.8" y1="668.0" x2="841" y2="668.0"/><line x1="838.8" y1="672.0" x2="841" y2="672.0"/><line x1="838.8" y1="675.9" x2="841" y2="675.9"/><line x1="838.8" y1="679.9" x2="841" y2="679.9"/><line x1="838.8" y1="683.8" x2="841" y2="683.8"/><line x1="838.8" y1="687.8" x2="841" y2="687.8"/><line x1="838.8" y1="691.7" x2="841" y2="691.7"/><line x1="838.8" y1="695.7" x2="841" y2="695.7"/><line x1="838.8" y1="699.6" x2="841" y2="699.6"/><line x1="838.8" y1="703.6" x2="841" y2="703.6"/><line x1="838.8" y1="707.5" x2="841" y2="707.5"/><line x1="838.8" y1="711.5" x2="841" y2="711.5"/><line x1="838.8" y1="715.4" x2="841" y2="715.4"/><line x1="838.8" y1="719.4" x2="841" y2="719.4"/><line x1="838.8" y1="723.3" x2="841" y2="723.3"/></g>
<rect x="883.3" y="658.5" width="35.5" height="38.5" fill="#fcd3a6" stroke="#b98a5e" stroke-width="0.7"/><rect x="887.00" y="660.80" width="11.00" height="3.20" fill="#8d5f6b"/>
<g stroke="#8a6040" stroke-width="0.5" opacity="0.7"><line x1="891" y1="666.5" x2="911" y2="666.5"/><line x1="891" y1="670" x2="903" y2="670"/><line x1="891" y1="673.5" x2="903" y2="673.5"/></g><rect x="883.30" y="693.30" width="17.00" height="3.40" fill="#dca675"/>
<rect x="901.00" y="693.30" width="17.50" height="3.40" fill="#dca675"/>
<rect x="714.50" y="627.10" width="122.50" height="98.90" fill="#e7d5ea"/>
<rect x="714.50" y="627.10" width="122.50" height="12.90" fill="#c8acd6"/>
<g stroke="#d2bedd" stroke-width="0.8"><line x1="758" y1="627.1" x2="758" y2="726"/><line x1="714.5" y1="676.3" x2="837" y2="676.3"/><line x1="714.5" y1="699.3" x2="837" y2="699.3"/><line x1="714.5" y1="712.4" x2="837" y2="712.4"/></g>
<g stroke="#7a55a0" stroke-width="0.6" opacity="0.85"><line x1="717" y1="631.6" x2="725" y2="631.6"/><line x1="717" y1="634.6" x2="737" y2="634.6"/><line x1="760" y1="631.6" x2="797" y2="631.6"/></g>
<g stroke="#9a78bb" stroke-width="0.55" opacity="0.9"><line x1="717" y1="645" x2="747" y2="645"/><line x1="717" y1="678.5" x2="753" y2="678.5"/><line x1="717" y1="701.5" x2="749" y2="701.5"/><line x1="717" y1="704.5" x2="727" y2="704.5"/><line x1="717" y1="714.5" x2="747" y2="714.5"/><line x1="717" y1="717.5" x2="729" y2="717.5"/><line x1="760" y1="645.0" x2="829" y2="645.0"/><line x1="760" y1="648.3" x2="808" y2="648.3"/><line x1="760" y1="651.6" x2="811" y2="651.6"/><line x1="760" y1="654.9" x2="805" y2="654.9"/><line x1="760" y1="658.2" x2="816" y2="658.2"/><line x1="760" y1="661.5" x2="810" y2="661.5"/><line x1="760" y1="664.8" x2="816" y2="664.8"/><line x1="760" y1="668.1" x2="797" y2="668.1"/><line x1="760" y1="671.4" x2="783" y2="671.4"/><line x1="760" y1="678.5" x2="823" y2="678.5"/><line x1="760" y1="681.8" x2="782" y2="681.8"/><line x1="760" y1="685.1" x2="780" y2="685.1"/><line x1="760" y1="688.4" x2="815" y2="688.4"/><line x1="760" y1="691.7" x2="784" y2="691.7"/><line x1="760" y1="695.0" x2="791" y2="695.0"/><line x1="760" y1="701.5" x2="820" y2="701.5"/><line x1="760" y1="704.8" x2="788" y2="704.8"/><line x1="760" y1="708.1" x2="810" y2="708.1"/><line x1="760" y1="714.5" x2="833" y2="714.5"/><line x1="760" y1="717.8" x2="833" y2="717.8"/><line x1="760" y1="721.1" x2="831" y2="721.1"/><line x1="760" y1="724.4" x2="796" y2="724.4"/></g>
</g>
<!-- phone -->
<defs><radialGradient id="scr" cx="0.5" cy="0.45" r="0.6"><stop offset="0" stop-color="#e9f1fb"/><stop offset="0.6" stop-color="#f3f7fc"/><stop offset="1" stop-color="#ffffff"/></radialGradient><linearGradient id="barg" x1="0" y1="0" x2="0" y2="1"><stop offset="0" stop-color="#3db4b5"/><stop offset="1" stop-color="#cdeaea"/></linearGradient></defs>
<g fill="#3d3d3d"><rect x="899" y="470.7" width="2" height="4.5" rx="0.8"/><rect x="899" y="478" width="2" height="7.6" rx="0.8"/><rect x="899" y="488" width="2" height="7.6" rx="0.8"/><rect x="962" y="481.3" width="1.8" height="11.7" rx="0.8"/></g>
<rect x="900.3" y="457.2" width="62.3" height="105.8" rx="10.6" fill="#3d3d3d"/>
<rect x="904.4" y="461.3" width="54.1" height="97.6" rx="7" fill="url(#scr)"/>
<path d="M916.2,461 L947.3,461 C946.5,463.5 945.5,463.8 943,463.8 L920.5,463.8 C918,463.8 917,463.5 916.2,461 Z" fill="#3d3d3d"/>
<rect x="928" y="460" width="8" height="0.9" fill="#bbbbbb"/><circle cx="938.3" cy="460.5" r="0.6" fill="#bbbbbb"/>
<g fill="#ffffff" opacity="0.95"><rect x="915" y="481.3" width="34.8" height="18.7" rx="1.5"/><rect x="915" y="502.5" width="34.8" height="18" rx="1.5" fill="#f9fbfe"/><rect x="915" y="524" width="34.8" height="19" rx="1.5"/></g>
<g fill="url(#barg)"><rect x="920.66" y="487.51" width="0.85" height="8.72"/><rect x="922.53" y="485.39" width="0.85" height="10.84"/><rect x="924.03" y="489.37" width="0.85" height="6.85"/><rect x="925.89" y="485.01" width="0.85" height="11.21"/><rect x="927.89" y="487.51" width="0.85" height="8.72"/><rect x="929.76" y="488.38" width="0.85" height="7.85"/><rect x="931.38" y="489.37" width="0.85" height="6.85"/><rect x="933.12" y="484.64" width="0.85" height="11.59"/><rect x="934.99" y="490.00" width="0.85" height="6.23"/><rect x="936.86" y="494.36" width="0.85" height="1.87"/><rect x="938.73" y="493.11" width="0.85" height="3.11"/><rect x="940.35" y="494.98" width="0.85" height="1.25"/><rect x="942.09" y="489.12" width="0.85" height="7.10"/></g><g fill="#7fcfd0"><rect x="920.56" y="496.23" width="1.2" height="0.8"/><rect x="922.43" y="496.23" width="1.2" height="0.8"/><rect x="923.93" y="496.23" width="1.2" height="0.8"/><rect x="925.79" y="496.23" width="1.2" height="0.8"/><rect x="927.79" y="496.23" width="1.2" height="0.8"/><rect x="929.66" y="496.23" width="1.2" height="0.8"/><rect x="931.28" y="496.23" width="1.2" height="0.8"/><rect x="933.02" y="496.23" width="1.2" height="0.8"/><rect x="934.89" y="496.23" width="1.2" height="0.8"/><rect x="936.76" y="496.23" width="1.2" height="0.8"/><rect x="938.63" y="496.23" width="1.2" height="0.8"/><rect x="940.25" y="496.23" width="1.2" height="0.8"/><rect x="941.99" y="496.23" width="1.2" height="0.8"/></g>
<rect x="921.16" y="506.01" width="3.74" height="1.25" fill="#5cc0c0"/><rect x="926.14" y="506.01" width="17.44" height="1.25" fill="#f19a7e"/><rect x="921.16" y="508.76" width="6.48" height="1.25" fill="#5cc0c0"/><rect x="928.89" y="508.76" width="14.70" height="1.25" fill="#ee6a50"/><rect x="921.16" y="511.25" width="4.98" height="1.25" fill="#5cc0c0"/><rect x="931.75" y="511.25" width="11.84" height="1.25" fill="#f3a07f"/><rect x="921.16" y="513.49" width="1.87" height="1.25" fill="#5cc0c0"/><rect x="927.64" y="513.49" width="15.95" height="1.25" fill="#ee6a50"/><rect x="921.16" y="516.11" width="13.70" height="1.25" fill="#5cc0c0"/><rect x="936.11" y="516.11" width="7.47" height="1.25" fill="#f3a07f"/>
<circle cx="918" cy="526.7" r="0.8" fill="#ee6a50"/><circle cx="927.1" cy="526.7" r="0.8" fill="#3f5fa0"/><circle cx="935.1" cy="526.7" r="0.8" fill="#44b8b8"/>
<polygon fill="#4bbcbc" points="917.80,541.70 919.92,537.96 921.78,534.85 924.28,537.96 926.77,532.98 928.64,531.73 931.13,535.47 933.62,534.22 936.11,532.98 938.60,535.47 941.09,531.73 942.96,530.24 944.83,532.98 946.70,541.70"/><polygon fill="#3f5fa0" points="917.80,541.70 919.92,536.71 921.41,534.22 923.65,539.21 927.39,539.21 931.13,537.96 934.87,537.96 938.60,539.21 942.34,537.96 944.83,537.34 946.70,541.70"/><polygon fill="#ee6a50" points="917.80,541.70 919.92,539.21 922.41,540.45 927.39,539.83 932.37,537.96 935.49,537.34 938.60,539.21 942.34,539.83 944.83,539.21 946.70,541.70"/>

<!-- orange arrows -->
<g stroke="#f8e0a0" stroke-width="12" stroke-linecap="round" fill="none">
  <line x1="180.5" y1="602" x2="210" y2="602"/>
  <line x1="515.5" y1="600.2" x2="545" y2="600.2"/>
  <line x1="630" y1="600.2" x2="689" y2="600.2"/>
  <line x1="601.3" y1="509" x2="601.3" y2="479"/>
  <line x1="556" y1="448.5" x2="499" y2="504"/>
</g>
<g fill="#f8e0a0">
  <path d="M248,602 L207.5,578.5 L207.5,625.5 Z"/>
  <path d="M582.7,600.2 L542,576.8 L542,623.6 Z"/>
  <path d="M727.3,600.2 L686.6,576.8 L686.6,623.6 Z"/>
  <path d="M601.2,441.8 L577.8,481.5 L625.2,481.5 Z"/>
  <path d="M473,530.6 L484.5,486 L517,518.8 Z"/>
</g>


<!-- smileys -->
<g stroke="#525252" stroke-width="1.25" fill="none">
  <polyline points="1001.8,686.8 1001.8,493.6 1036,493.6" />
  <line x1="951.5" y1="590" x2="1036" y2="590"/>
  <line x1="1001.8" y1="686.8" x2="1036" y2="686.8"/>
</g>
<g fill="#404040">
  <path d="M1044,493.6 L1035,488.6 L1035,498.6 Z"/>
  <path d="M1044,590 L1035,585 L1035,595 Z"/>
  <path d="M1044,686.8 L1035,681.8 L1035,691.8 Z"/>
</g>
<g id="smile">
</g>
<circle cx="1080" cy="493.6" r="33.5" fill="#ffffff" stroke="#404040" stroke-width="1.2"/>
<circle cx="1065.8" cy="483.7" r="3.9" fill="#404040"/><circle cx="1094" cy="483.7" r="3.9" fill="#404040"/>
<path d="M1063.5,505.7 Q1080,523.6 1096.5,505.0" fill="none" stroke="#404040" stroke-width="1.2"/>
<circle cx="1080" cy="589.9" r="33.5" fill="#ffffff" stroke="#404040" stroke-width="1.2"/>
<circle cx="1065.8" cy="580.0" r="3.9" fill="#404040"/><circle cx="1094" cy="580.0" r="3.9" fill="#404040"/>
<path d="M1063.5,602.0 Q1080,619.9 1096.5,601.3" fill="none" stroke="#404040" stroke-width="1.2"/>
<circle cx="1080" cy="688.4" r="33.5" fill="#ffffff" stroke="#404040" stroke-width="1.2"/>
<circle cx="1065.8" cy="678.5" r="3.9" fill="#404040"/><circle cx="1094" cy="678.5" r="3.9" fill="#404040"/>
<path d="M1063.5,700.5 Q1080,718.4 1096.5,699.8" fill="none" stroke="#404040" stroke-width="1.2"/>

<!-- gebruiksdata dashed -->
<polyline points="839.2,731 839.2,895.4 119.8,895.4 119.8,846.5" fill="none" stroke="#555555" stroke-width="1.15" stroke-dasharray="5.2 4.7"/>
<path d="M119.8,839.2 L114.9,846.6 L124.7,846.6 Z" fill="#404040"/>
<text x="821.8" y="879.2" font-size="15" class="t it" text-anchor="end" textLength="89" lengthAdjust="spacingAndGlyphs">gebruiksdata</text>

<!-- icons -->
<g stroke="#3f3f3f" fill="none" stroke-linecap="round" stroke-linejoin="round">
 <!-- envelope -->
 <rect x="54.2" y="706.3" width="31" height="21.5" stroke-width="1.5"/>
 <path d="M54.2,706.3 L69.7,720.3 L85.2,706.3 M54.2,727.8 L65,717.6 M85.2,727.8 L74.4,717.6" stroke-width="1.4"/>
 <!-- image -->
 <rect x="105.65" y="705.35" width="31.2" height="24" stroke-width="2.5" stroke-linecap="butt" stroke-linejoin="miter"/>
 <!-- document -->
 <path d="M156.7,700.2 L170.3,700.2 L180.8,710.2 L180.8,731.8 L156.7,731.8 Z" stroke-width="2.2" stroke-linejoin="miter"/>
 <path d="M170.3,700.2 L170.3,709.5 L180.8,709.5" stroke-width="1.8" stroke-linejoin="miter"/>
 <path d="M161,712.3 H165.8 M161,715.3 H176.9 M161,718.4 H176.9 M161,721.6 H176.9 M161,724.9 H176.9" stroke-width="1.1" stroke-linecap="butt"/>
 <!-- browser person -->
 <rect x="55.25" y="755.35" width="31.6" height="24" stroke-width="2.5" stroke-linecap="butt" stroke-linejoin="miter"/>
 <!-- waveform -->
 <path d="M102.75,765 V768.8 M106.9,763.1 V770.6 M111.25,759.1 V774.7 M115.6,755 V778.8 M120,761.3 V772.5 M124.1,763.1 V770.6 M128.5,765 V768.8 M132.9,763.1 V770.6 M137.1,765 V768.8" stroke-width="2.2" stroke-linecap="butt"/>
 <!-- hashtag -->
 <path d="M165,751.9 L157.5,783.8 M176.5,751.9 L169,783.8 M153.5,761.3 H181.9 M151.3,774.4 H180" stroke-width="1.5" stroke-linecap="butt"/>
 <!-- cloud -->
 <path d="M57.4,820.6 H85.6 A6.2,6.2 0 0 0 84.8,808 A8,8 0 0 0 75.6,801.4 A8.7,8.7 0 0 0 59.6,805.2 A7.8,7.8 0 0 0 57.4,820.6 Z" stroke-width="1.1"/>
 <path d="M65.74,808.52 A5.2,5.2 0 0 1 75.28,810.07 M74.77,813.69 A5.2,5.2 0 0 1 65.00,811.20" stroke-width="1" stroke-linecap="butt"/>
 <!-- tower -->
 <path d="M116.9,799.6 L104.4,823.1 M116.9,799.6 L130,823.1" stroke-width="1.1"/>
 <path d="M111.6,809.4 L126.5,817.5 M122.4,809.4 L108.6,817.5 M109.1,814 L130,823.1 M125,814 L104.4,823.1" stroke-width="1.1"/>
 <g stroke-width="1"><path d="M114.00,796.79 A3.9,3.9 0 0 0 114.00,802.01"/><path d="M119.80,796.79 A3.9,3.9 0 0 1 119.80,802.01"/><path d="M110.95,794.05 A8.0,8.0 0 0 0 110.95,804.75"/><path d="M122.85,794.05 A8.0,8.0 0 0 1 122.85,804.75"/><path d="M108.13,791.50 A11.8,11.8 0 0 0 108.13,807.30"/><path d="M125.67,791.50 A11.8,11.8 0 0 1 125.67,807.30"/></g>
 <!-- router -->
 <rect x="151.8" y="815.2" width="28.6" height="8" rx="2" stroke-width="1.1"/>
 <path d="M165.9,803.1 V815.2" stroke-width="1.1"/>
 <g stroke-width="1"><path d="M163.22,800.69 A3.6,3.6 0 0 0 163.22,805.51"/><path d="M168.58,800.69 A3.6,3.6 0 0 1 168.58,805.51"/><path d="M160.10,797.88 A7.8,7.8 0 0 0 160.10,808.32"/><path d="M171.70,797.88 A7.8,7.8 0 0 1 171.70,808.32"/><path d="M157.35,795.40 A11.5,11.5 0 0 0 157.35,810.80"/><path d="M174.45,795.40 A11.5,11.5 0 0 1 174.45,810.80"/></g>
</g>
<g fill="#3f3f3f">
 <path d="M108.1,725.4 L117.5,709.4 L128.1,725.4 Z"/>
 <path d="M125.8,716.3 L128,713.8 L134.6,725.4 L130.6,725.4 Z"/>
 <circle cx="112.5" cy="710.3" r="1.3"/>
 <rect x="54" y="754.1" width="34.1" height="6.5"/>
 <circle cx="66.9" cy="766.3" r="2.9"/>
 <path d="M60.6,776.6 C60.6,772.6 63.5,771.2 66.7,771.2 C69.9,771.2 72.8,772.6 72.8,776.6 Z"/>
 <path d="M72.3,763.1 H81.3 V769.4 H76 L73.6,771.6 V769.4 H72.3 Z"/>
 <circle cx="116.9" cy="799.6" r="1.6"/>
 <circle cx="156.1" cy="819.3" r="1.3"/>
 <circle cx="163.1" cy="819.3" r="0.75"/><circle cx="167.5" cy="819.3" r="0.75"/><circle cx="171.9" cy="819.3" r="0.75"/><circle cx="176" cy="819.3" r="0.75"/>
 <circle cx="165.9" cy="803.1" r="1.6"/>
</g>
<g fill="#ffffff">
 <circle cx="77.3" cy="757.4" r="0.8"/><circle cx="80.5" cy="757.4" r="0.8"/><circle cx="83.7" cy="757.4" r="0.8"/>
 <path d="M115.6,712.5 L117.5,715.8 L119.4,712.5 L117.5,714.2 Z"/>
</g>
<g fill="#3f3f3f">
 <path d="M75.61,811.60 L73.20,809.47 L76.91,808.65 Z M65.00,809.64 L66.90,812.24 L63.10,812.24 Z"/>
</g>

<!-- REST-API tags -->
<g fill="#f4f5f7" stroke="#d9d9db" stroke-width="1">
  <rect x="77.5" y="363.5" width="79.5" height="28" rx="6"/>
  <rect x="319.5" y="363.5" width="79.5" height="28" rx="6"/>
  <rect x="559.8" y="363.5" width="79.5" height="28" rx="6"/>
  <rect x="798.5" y="363.5" width="79.5" height="28" rx="6"/>
</g>

<g class="rest" text-anchor="middle">
  <text x="117.2" y="382" textLength="57.2" lengthAdjust="spacingAndGlyphs">REST-API</text>
  <text x="359.2" y="382" textLength="57.2" lengthAdjust="spacingAndGlyphs">REST-API</text>
  <text x="599.5" y="382" textLength="57.2" lengthAdjust="spacingAndGlyphs">REST-API</text>
  <text x="838.2" y="382" textLength="57.2" lengthAdjust="spacingAndGlyphs">REST-API</text>
</g>

</svg>
</body></html>
